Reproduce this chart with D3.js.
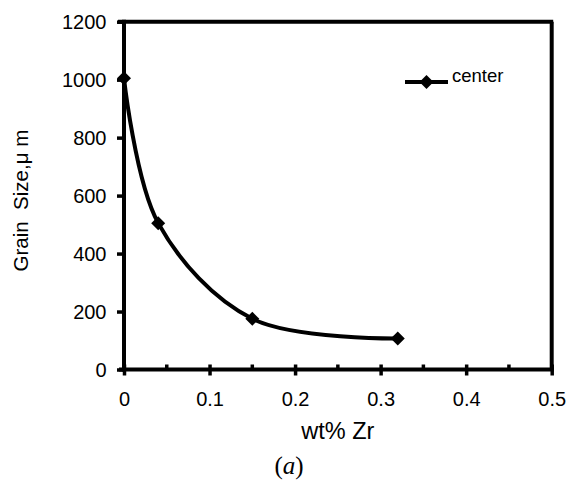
<!DOCTYPE html>
<html>
<head>
<meta charset="utf-8">
<script src="https://cdn.jsdelivr.net/npm/d3@7"></script>
<style>
  html, body { margin: 0; padding: 0; background: #fff; }
  svg { display: block; }
  text { font-family: "Liberation Sans", Arial, Helvetica, sans-serif; fill: #000; }
</style>
</head>
<body>
<svg id="chart" width="570" height="483"></svg>
<script>
// ---- data ----
const xValues = [0, 0.04, 0.15, 0.32];
const yValues = [1005, 505, 175, 107];
const seriesName = "center";
const xTickValues = [0, 0.1, 0.2, 0.3, 0.4, 0.5];
const xMinorTickValues = [0.05, 0.15, 0.25, 0.35, 0.45];
const yTickValues = [0, 200, 400, 600, 800, 1000, 1200];
const xTitle = "wt% Zr";
const yTitle = "Grain  Size,\u03bc m";
const caption = "a";

(function () {
// ---- layout ----
const pL = 124, pR = 551.7, pT = 21.7, pB = 369.5;
const svg = d3.select("#chart");

const x = d3.scaleLinear().domain([0, 0.5]).range([pL, pR]);
const y = d3.scaleLinear().domain([0, 1200]).range([pB, pT]);

const AX = 4;

// frame: top and right
svg.append("line").attr("x1", x(0) - 6).attr("x2", x(0.5) + 1.5)
  .attr("y1", y(1200)).attr("y2", y(1200))
  .attr("stroke", "#000").attr("stroke-width", AX);
svg.append("line").attr("x1", x(0.5)).attr("x2", x(0.5))
  .attr("y1", y(1200)).attr("y2", y(0))
  .attr("stroke", "#000").attr("stroke-width", AX);

// y axis
const yAxis = svg.append("g").attr("transform", `translate(${pL},0)`)
  .call(d3.axisLeft(y).tickValues(yTickValues).tickSize(7).tickPadding(10.5).tickFormat(d3.format("d")));
yAxis.select(".domain").attr("stroke-width", AX).attr("d", `M0,${pB + 2}V${pT - 2}`);
yAxis.selectAll(".tick line").attr("stroke-width", 3.5);
yAxis.selectAll(".tick text").attr("font-size", 20).attr("dy", "0.35em")
  .style("font-family", '"Liberation Sans", Arial, sans-serif');

// x axis
const xAxis = svg.append("g").attr("transform", `translate(0,${pB})`)
  .call(d3.axisBottom(x).tickValues(xTickValues).tickSize(6).tickPadding(16).tickFormat(d => d === 0 ? "0" : d3.format(".1f")(d)));
xAxis.select(".domain").attr("stroke-width", AX).attr("d", `M${pL - 5},0H${pR + 2}`);
xAxis.selectAll(".tick line").attr("stroke-width", 3.5).attr("y1", -5);
xAxis.selectAll(".tick text").attr("font-size", 20)
  .style("font-family", '"Liberation Sans", Arial, sans-serif');
xAxis.selectAll(".minor").data(xMinorTickValues).enter().append("line")
  .attr("class", "minor")
  .attr("x1", d => x(d)).attr("x2", d => x(d))
  .attr("y1", -5).attr("y2", 0)
  .attr("stroke", "#000").attr("stroke-width", 3.5);

// data line
const pts = xValues.map((v, i) => [v, yValues[i]]);
const line = d3.line().x(d => x(d[0])).y(d => y(d[1])).curve(d3.curveCatmullRom.alpha(0.5));
svg.append("path").datum(pts).attr("d", line)
  .attr("fill", "none").attr("stroke", "#000").attr("stroke-width", 4).attr("stroke-linejoin", "round");

const diamond = d3.symbol().type(d3.symbolDiamond2).size(125);
svg.selectAll(".pt").data(pts).enter().append("path")
  .attr("class", "pt")
  .attr("transform", d => `translate(${x(d[0])},${y(d[1])})`)
  .attr("d", diamond).attr("fill", "#000");

// legend
const lg = svg.append("g");
lg.append("line").attr("x1", 405).attr("x2", 448).attr("y1", 82).attr("y2", 82)
  .attr("stroke", "#000").attr("stroke-width", 4);
lg.append("path").attr("transform", "translate(426.5,82)").attr("d", diamond).attr("fill", "#000");
lg.append("text").attr("x", 452).attr("y", 82).attr("font-size", 18.5).text(seriesName);

// axis titles
svg.append("text").attr("x", (pL + pR) / 2).attr("y", 439)
  .attr("text-anchor", "middle").attr("font-size", 23.5).text(xTitle);
svg.append("text").attr("transform", `translate(28,${(pT + pB) / 2 + 5}) rotate(-90)`)
  .attr("text-anchor", "middle").attr("font-size", 20.5).style("white-space", "pre").text(yTitle);

// caption
const cap = svg.append("text").attr("x", 289).attr("y", 474).attr("text-anchor", "middle")
  .attr("font-size", 25).style("font-family", '"Liberation Serif", "Times New Roman", serif');
cap.append("tspan").text("(");
cap.append("tspan").attr("font-style", "italic").text(caption);
cap.append("tspan").text(")");
})();
</script>
</body>
</html>
